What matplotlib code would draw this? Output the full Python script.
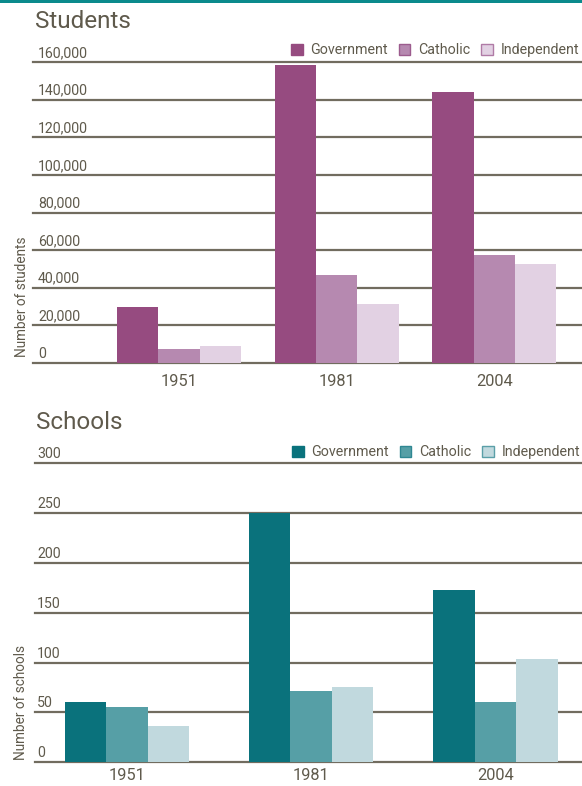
import matplotlib
matplotlib.use("Agg")
import matplotlib.pyplot as plt
import matplotlib.transforms as mtrans
from matplotlib.patches import Patch, Rectangle
import numpy as np

plt.rcParams['font.family'] = ['Roboto', 'DejaVu Sans']

# ---------------- data ----------------
years = ["1951", "1981", "2004"]
series = ["Government", "Catholic", "Independent"]

students_gov = [30000, 158500, 144000]
students_cath = [7500, 47000, 57500]
students_ind = [9000, 31500, 52500]
students_ticks = [0, 20000, 40000, 60000, 80000, 100000, 120000, 140000, 160000]
students_ticklabels = ["0", "20,000", "40,000", "60,000", "80,000", "100,000",
                       "120,000", "140,000", "160,000"]

schools_gov = [60, 250, 173]
schools_cath = [55, 71, 60]
schools_ind = [36, 75, 104]
schools_ticks = [0, 50, 100, 150, 200, 250, 300]
schools_ticklabels = ["0", "50", "100", "150", "200", "250", "300"]

# ---------------- style ----------------
W, H = 582, 786
TXT = "#5f5a4c"
GRID = "#716c5f"
purple = ["#964b80", "#b689b0", "#e2d1e3"]
purple_edge = ["#964b80", "#9c5c8e", "#b07ba6"]
teal = ["#0a727c", "#569fa6", "#c1d9de"]
teal_edge = ["#0a727c", "#2f8792", "#5a9fa8"]

fig = plt.figure(figsize=(W / 100, H / 100), dpi=100)
fig.patch.set_facecolor("white")

# top teal rule
fig.add_artist(Rectangle((0, 1 - 2.5 / H), 1, 2.5 / H, transform=fig.transFigure,
                         color="#0b8a8c", lw=0))


def px_rect(x0, x1, ytop, ybot):
    return [x0 / W, (H - ybot) / H, (x1 - x0) / W, (ybot - ytop) / H]


def draw_panel(rect, xlim, width, vals, colors, edges, ticks, ticklabels, ymax,
               title, title_xy, ylabel, ylabel_xy, legend_xy, lab_x_px, year_y_px):
    ax = fig.add_axes(rect)
    x = np.arange(len(years))
    for i, (v, c) in enumerate(zip(vals, colors)):
        ax.bar(x + (i - 1) * width, v, width=width, color=c, lw=0, zorder=1)
    ax.set_xlim(*xlim)
    ax.set_ylim(0, ymax)
    for s in ax.spines.values():
        s.set_visible(False)
    ax.set_xticks([])
    ax.set_yticks([])
    for t in ticks:
        ax.axhline(t, color=GRID, lw=1.6, zorder=0.5, clip_on=False)
    # tick labels above gridlines
    tr = mtrans.blended_transform_factory(fig.transFigure, ax.transData)
    tr = mtrans.offset_copy(tr, fig=fig, x=0, y=2, units='dots')
    for t, lab in zip(ticks, ticklabels):
        ax.text(lab_x_px / W, t, lab, transform=tr, ha='left', va='bottom',
                fontsize=10.2, color=TXT)
    # year labels
    trx = mtrans.blended_transform_factory(ax.transData, fig.transFigure)
    for xi, yr in zip(x, years):
        ax.text(xi, 1 - year_y_px / H, yr, transform=trx, ha='center', va='center',
                fontsize=11.8, color=TXT)
    fig.text(title_xy[0] / W, 1 - title_xy[1] / H, title, fontsize=17.5, color=TXT,
             ha='left', va='center')
    fig.text(ylabel_xy[0] / W, 1 - ylabel_xy[1] / H, ylabel, fontsize=9.8, color=TXT,
             rotation=90, ha='center', va='center')
    handles = [Patch(facecolor=c, edgecolor=e, lw=1) for c, e in zip(colors, edges)]
    leg = fig.legend(handles, series, loc='center right',
                     bbox_to_anchor=(legend_xy[0] / W, 1 - legend_xy[1] / H),
                     ncol=3, frameon=False, fontsize=10.3, handlelength=0.8,
                     handleheight=0.8, handletextpad=0.55, columnspacing=0.75,
                     borderpad=0, borderaxespad=0)
    for t in leg.get_texts():
        t.set_color(TXT)
    return ax


draw_panel(px_rect(33.4, 582, 62, 363), (-0.923, 2.555), 0.262,
           [students_gov, students_cath, students_ind], purple, purple_edge,
           students_ticks, students_ticklabels, 160000,
           "Students", (35, 22), "Number of students", (22, 297), (579, 50),
           38, 382)

draw_panel(px_rect(34.5, 582, 463, 762.3), (-0.502, 2.47), 0.225,
           [schools_gov, schools_cath, schools_ind], teal, teal_edge,
           schools_ticks, schools_ticklabels, 300,
           "Schools", (36, 423), "Number of schools", (21, 702), (580, 452),
           37, 775)

fig.savefig("out.png", dpi=100, facecolor="white")
